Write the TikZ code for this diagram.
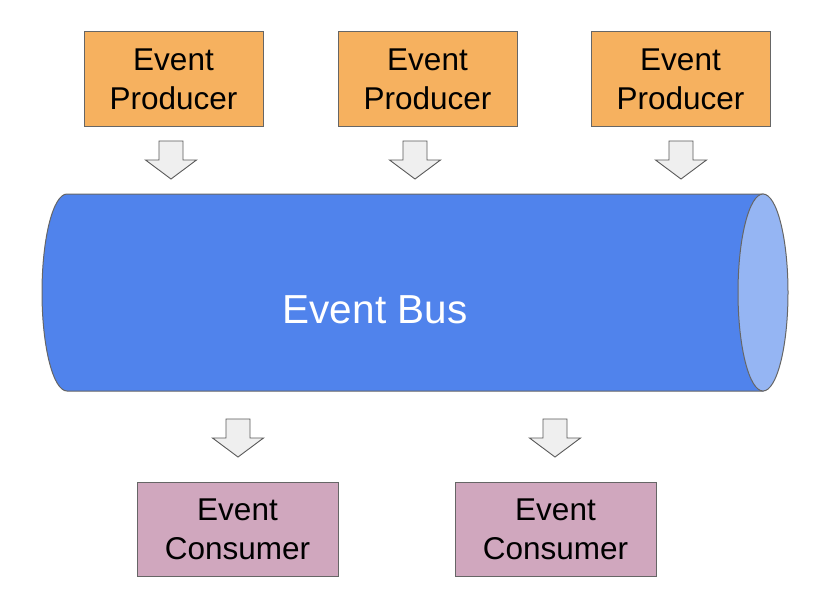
\documentclass[tikz,border=0pt]{standalone}
\usepackage{fontspec}
\setmainfont{Liberation Sans}
\usetikzlibrary{calc}
\definecolor{ProdOrange} {HTML}{F6B15F}
\definecolor{ConsPink}   {HTML}{D0A7BE}
\definecolor{BusBlue}    {HTML}{5083EC}
\definecolor{BusEnd}     {HTML}{95B5F3}
\definecolor{ArrowFill}  {HTML}{EFEFEF}
\definecolor{EdgeGrey}   {HTML}{666666}
\definecolor{ArrowGrey}  {HTML}{595959}

\tikzset{
  evbox/.style={draw=EdgeGrey, line width=1pt, minimum height=94pt, align=center,
                inner sep=0pt, font=\fontsize{31.5}{39}\selectfont},
  producer/.style={evbox, fill=ProdOrange, minimum width=179pt},
  consumer/.style={evbox, fill=ConsPink, minimum width=201pt},
  blockarrow/.style={draw=ArrowGrey, fill=ArrowFill, line width=0.9pt, line join=miter}
}

\begin{document}
\begin{tikzpicture}[x=1pt, y=-1pt]
  \useasboundingbox (0,0) rectangle (832,602);

  % ===== PRODUCERS =====
  \node[producer] (prodA) at (173.5,79) {Event\\Producer};
  \node[producer] (prodB) at (427.5,79) {Event\\Producer};
  \node[producer] (prodC) at (680.5,79) {Event\\Producer};

  % ===== EVENT BUS (cylinder) =====
  \draw[draw=EdgeGrey, line width=1pt, fill=BusBlue]
        (763,194) -- (67,194) arc [start angle=90, end angle=270, x radius=25pt, y radius=98.5pt]
        -- (763,391) -- cycle;
  \draw[draw=EdgeGrey, line width=1pt, fill=BusEnd]
        (763,292.5) ellipse [x radius=25pt, y radius=98.5pt];
  \node[text=white, font=\fontsize{40.5}{48}\selectfont] (bus) at (375,309.5) {Event Bus};

  % ===== CONSUMERS =====
  \node[consumer] (consA) at (237.5,529) {Event\\Consumer};
  \node[consumer] (consB) at (555.5,529) {Event\\Consumer};

  % ===== BLOCK ARROWS (centre x / top y) =====
  \foreach \cx/\ty in {171/141, 415/141, 681/141, 238/419, 555/419}{
    \draw[blockarrow] (\cx-12,\ty) -- ++(24,0) -- ++(0,19) -- ++(13.5,0)
          -- (\cx,\ty+38) -- (\cx-25.5,\ty+19) -- ++(13.5,0) -- cycle;
  }

\end{tikzpicture}
\end{document}
